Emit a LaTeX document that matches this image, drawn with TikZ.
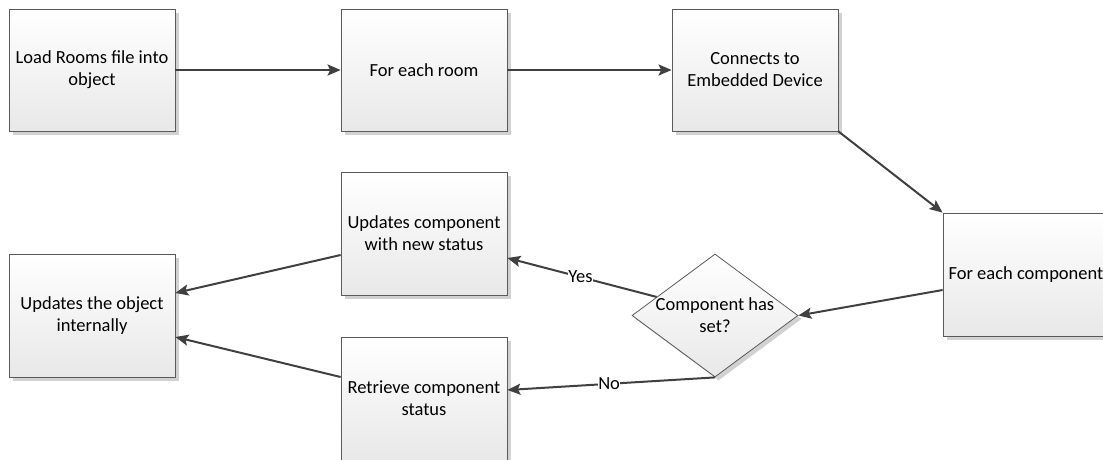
\documentclass[tikz,border=0pt]{standalone}
\usepackage{fontspec}
\setmainfont{Carlito}
\usetikzlibrary{shapes.geometric,shadows,arrows.meta,calc}
\definecolor{linegray}{HTML}{404040}
\definecolor{edgegray}{HTML}{5A5A5A}
\tikzset{
  stepbox/.style={rectangle, draw=edgegray, line width=0.8pt,
    minimum width=166pt, minimum height=122pt, inner sep=1pt,
    align=center, top color=white, bottom color=black!9,
    general shadow={fill=black!18, shadow xshift=3.5pt, shadow yshift=-3.5pt},
    font=\fontsize{18.5}{22}\selectfont},
  decision/.style={diamond, draw=edgegray, line width=0.8pt,
    minimum width=166pt, minimum height=123pt, inner sep=0pt,
    top color=white, bottom color=black!9,
    general shadow={fill=black!18, shadow xshift=3.5pt, shadow yshift=-3.5pt}},
  boxtext/.style={align=center, inner sep=0pt,
    font=\fontsize{18.5}{22}\selectfont},
  flow/.style={draw=linegray, line width=2pt,
    -{Stealth[length=13pt,width=11pt,inset=2.5pt]}},
  edgetext/.style={fill=white, inner sep=0.5pt, text=black,
    font=\fontsize{18.5}{20}\selectfont}
}
\begin{document}
\begin{tikzpicture}[x=1pt,y=-1pt]
\useasboundingbox (0,0) rectangle (1103,459);
\clip (0,0) rectangle (1103,459);

% top row
\node[stepbox] (load)     at (92,70)  {Load Rooms file into\\object};
\node[stepbox] (room)     at (424,70) {For each room};
\node[stepbox] (connect)  at (755,70) {Connects to\\Embedded Device};

% component loop
\node[stepbox, minimum height=123pt] (comp) at (1026,274.5) {For each component};
\node[decision] (hasset) at (715,315.5) {};
\node[boxtext] (hasset-label) at (hasset.center) {Component has\\set?};
\node[stepbox, minimum height=123pt] (setstat) at (424,233.5) {Updates component\\with new status};
\node[stepbox, minimum height=123pt] (getstat) at (424,398.5) {Retrieve component\\status};
\node[stepbox, minimum height=123pt] (update)  at (92,315.5)  {Updates the object\\internally};

% connectors
\draw[flow] (load.east) -- (room.west);
\draw[flow] (room.east) -- (connect.west);
\draw[flow] (connect.south east) -- (comp.north west);
\draw[flow] ($(comp.west)+(0,15.5)$) -- (hasset.east);
\draw[flow] ($(hasset.west)!0.3!(hasset.north)$) -- node[edgetext, pos=0.51] {Yes} ($(setstat.east)+(0,24.5)$);
\draw[flow] (hasset.south) -- node[edgetext, pos=0.51] {No} ($(getstat.east)+(0,-8.5)$);
\draw[flow] ($(setstat.west)+(0,21.5)$) -- ($(update.east)+(0,-22.5)$);
\draw[flow] ($(getstat.west)+(0,-21.5)$) -- ($(update.east)+(0,21.5)$);
\end{tikzpicture}
\end{document}
